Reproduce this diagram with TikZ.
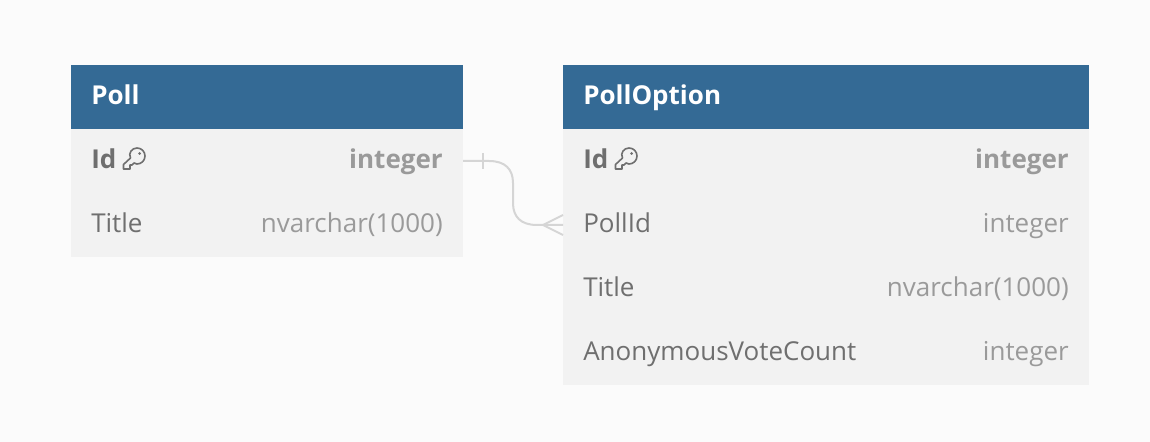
\documentclass[tikz,border=0pt]{standalone}
\usepackage{fontspec}
\setmainfont{Open Sans}
\definecolor{bgc}{HTML}{FBFBFB}
\definecolor{head}{HTML}{346A95}
\definecolor{rowc}{HTML}{F2F2F2}
\definecolor{namec}{HTML}{6F6F6F}
\definecolor{typec}{HTML}{9A9A9A}
\definecolor{linkc}{HTML}{D5D5D5}
\tikzset{
 px/.style={x=0.75pt,y=-0.75pt},
 headbox/.style={fill=head,draw=none,minimum height=48pt,anchor=north west,inner sep=0pt,outer sep=0pt},
 rowbox/.style={fill=rowc,draw=none,minimum height=48pt,anchor=north west,inner sep=0pt,outer sep=0pt},
 title/.style={anchor=base west,inner sep=0pt,font=\fontsize{19.5pt}{20pt}\selectfont\bfseries,text=white},
 fname/.style={anchor=base west,inner sep=0pt,font=\fontsize{19.5pt}{20pt}\selectfont,text=namec},
 ftype/.style={anchor=base east,inner sep=0pt,font=\fontsize{19.5pt}{20pt}\selectfont,text=typec},
 bold/.style={font=\fontsize{19.5pt}{20pt}\selectfont\bfseries},
 link/.style={draw=linkc,line width=1.5pt},
 keyicon/.pic={
  \draw[draw=namec,line width=1.2pt,line join=round,x=0.75pt,y=-0.75pt]
   (-10.5,11) -- (-10.5,6.5) -- (-3.5,0)
   .. controls (-6,-5) and (-2,-10) .. (3,-10)
   .. controls (8,-10) and (11,-6) .. (11,-2)
   .. controls (11,3) and (7,6) .. (3,6)
   .. controls (2,6) and (1,5.5) .. (0,5)
   -- (-2,7) -- (-4,7) -- (-4,11) -- cycle;
  \fill[namec,x=0.75pt,y=-0.75pt] (5.5,-4.5) circle (1.5);
 }
}
\begin{document}
\begin{tikzpicture}[px]
\useasboundingbox (0,0) rectangle (1150,442);
\fill[bgc] (0,0) rectangle (1150,442);
% Poll
\node[headbox,minimum width=294pt] (pollh) at (71,65) {};
\node[rowbox,minimum width=294pt] (poll1) at (71,129) {};
\node[rowbox,minimum width=294pt] (poll2) at (71,193) {};
\node[title] (pollt) at (91,104.5) {Poll};
\node[fname,bold] (pollidn) at (91,168.5) {Id};
\pic at (134,158) {keyicon};
\node[ftype,bold] (pollidt) at (443,168.5) {integer};
\node[fname] (polltn) at (91,232.5) {Title};
\node[ftype] (polltt) at (443,232.5) {nvarchar(1000)};
% PollOption
\node[headbox,minimum width=394.5pt] (opth) at (563,65) {};
\node[rowbox,minimum width=394.5pt] (opt1) at (563,129) {};
\node[rowbox,minimum width=394.5pt] (opt2) at (563,193) {};
\node[rowbox,minimum width=394.5pt] (opt3) at (563,257) {};
\node[rowbox,minimum width=394.5pt] (opt4) at (563,321) {};
\node[title] (optt) at (583,104.5) {PollOption};
\node[fname,bold] (optidn) at (583,168.5) {Id};
\pic at (626,158) {keyicon};
\node[ftype,bold] (optidt) at (1069,168.5) {integer};
\node[fname] (optpn) at (583,232.5) {PollId};
\node[ftype] (optpt) at (1069,232.5) {integer};
\node[fname] (opttn) at (583,296.5) {Title};
\node[ftype] (opttt) at (1069,296.5) {nvarchar(1000)};
\node[fname] (optan) at (583,360.5) {AnonymousVoteCount};
\node[ftype] (optat) at (1069,360.5) {integer};
% connector
\coordinate (s) at (poll1.east);
\coordinate (e) at (opt2.west);
\draw[link] (s) -- (489,161) .. controls (505,161) and (513,169) .. (513,183)
 -- (513,203) .. controls (513,217) and (521,225) .. (537,225) -- (e);
\draw[link] (483,153) -- (483,169);
\draw[link] (e) ++(0,-10) -- (543,225) -- ++(20,10);
\end{tikzpicture}
\end{document}
